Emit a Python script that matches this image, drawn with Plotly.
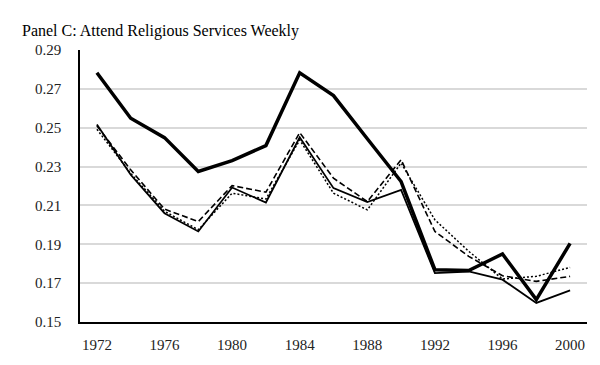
import plotly.graph_objects as go

years = [1972, 1974, 1976, 1978, 1980, 1982, 1984, 1986, 1988, 1990, 1992, 1994, 1996, 1998, 2000]
thick = [0.2783, 0.2549, 0.2449, 0.2275, 0.2331, 0.2408, 0.2783, 0.2665, 0.2443, 0.2223, 0.1769, 0.1765, 0.1850, 0.1615, 0.1905]
solid = [0.2516, 0.2258, 0.2060, 0.1966, 0.2192, 0.2115, 0.2451, 0.2189, 0.2117, 0.2180, 0.1752, 0.1760, 0.1718, 0.1598, 0.1663]
dashed = [0.2510, 0.2283, 0.2081, 0.2017, 0.2202, 0.2168, 0.2475, 0.2240, 0.2120, 0.2335, 0.1966, 0.1838, 0.1738, 0.1709, 0.1735]
dotted = [0.2492, 0.2265, 0.2070, 0.1975, 0.2163, 0.2133, 0.2437, 0.2163, 0.2077, 0.2318, 0.2026, 0.1864, 0.1721, 0.1735, 0.1781]
y_ticks = [0.15, 0.17, 0.19, 0.21, 0.23, 0.25, 0.27, 0.29]
x_ticks = [1972, 1976, 1980, 1984, 1988, 1992, 1996, 2000]

fig = go.Figure()
fig.add_trace(go.Scatter(x=years, y=dotted, mode="lines", line=dict(color="black", width=1.5, dash="2px,2px")))
fig.add_trace(go.Scatter(x=years, y=dashed, mode="lines", line=dict(color="black", width=1.6, dash="6px,3px")))
fig.add_trace(go.Scatter(x=years, y=solid, mode="lines", line=dict(color="black", width=1.8)))
fig.add_trace(go.Scatter(x=years, y=thick, mode="lines", line=dict(color="black", width=3.5)))

font = "Liberation Serif, Times New Roman, serif"
fig.update_layout(
    width=592, height=357,
    margin=dict(l=72, r=13, t=42, b=43),
    paper_bgcolor="white", plot_bgcolor="white",
    showlegend=False,
    font=dict(family=font, size=15, color="#222"),
    title=dict(text="Panel C: Attend Religious Services Weekly", x=14/592, xanchor="left",
               y=1 - 22/357, yanchor="middle", font=dict(family=font, size=16, color="black")),
    xaxis=dict(range=[1971, 2001], tickvals=x_ticks, ticktext=[str(v) for v in x_ticks],
               showgrid=False, showline=True, linecolor="black", linewidth=1.5,
               zeroline=False, ticks="", ticklabelstandoff=8),
    yaxis=dict(range=[0.15, 0.29], tickvals=y_ticks, ticktext=[f"{v:.2f}" for v in y_ticks],
               showgrid=True, gridcolor="#d9d9d9", gridwidth=1.5,
               showline=True, linecolor="black", linewidth=1.5,
               zeroline=False, ticks="", ticklabelstandoff=14),
)
fig.write_html("out.html")
